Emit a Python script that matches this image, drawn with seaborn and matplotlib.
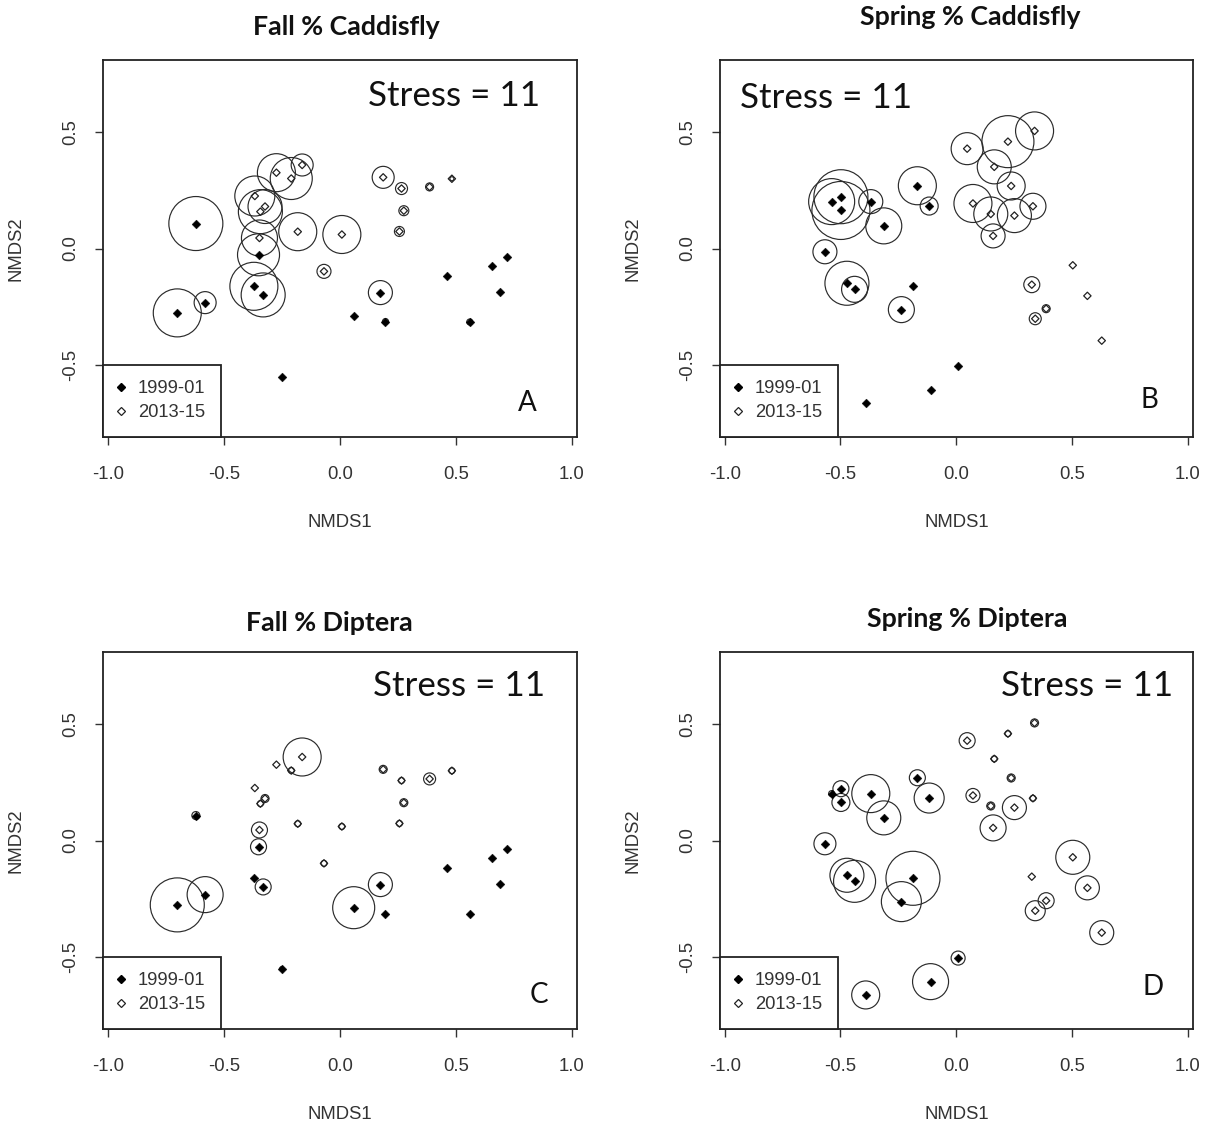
import matplotlib
matplotlib.use("Agg")
import matplotlib.pyplot as plt
import numpy as np
import pandas as pd
import seaborn as sns
from matplotlib.lines import Line2D

sns.set_theme(style="white")
plt.rcParams["font.family"] = ["Liberation Sans", "DejaVu Sans"]

# ---- NMDS site scores -------------------------------------------------------
# Fall ordination
fall_x_9901 = [-0.620, -0.700, -0.580, -0.350, -0.370, -0.330, -0.250, 0.060,
               0.175, 0.197, 0.460, 0.655, 0.720, 0.690, 0.560]
fall_y_9901 = [0.107, -0.276, -0.232, -0.027, -0.162, -0.199, -0.549, -0.288,
               -0.189, -0.313, -0.117, -0.075, -0.035, -0.188, -0.315]
fall_x_1315 = [-0.162, -0.273, -0.209, -0.366, -0.322, -0.342, -0.181, -0.346,
               0.009, -0.068, 0.187, 0.266, 0.276, 0.257, 0.387, 0.483]
fall_y_1315 = [0.358, 0.325, 0.300, 0.225, 0.180, 0.158, 0.072, 0.045,
               0.060, -0.098, 0.305, 0.257, 0.162, 0.073, 0.264, 0.299]

# Spring ordination
spring_x_9901 = [-0.538, -0.498, -0.498, -0.369, -0.313, -0.168, -0.117, -0.567,
                 -0.472, -0.439, -0.187, -0.237, 0.008, -0.111, -0.391]
spring_y_9901 = [0.201, 0.222, 0.163, 0.201, 0.097, 0.269, 0.182, -0.014,
                 -0.149, -0.175, -0.162, -0.262, -0.504, -0.605, -0.662]
spring_x_1315 = [0.047, 0.223, 0.338, 0.164, 0.237, 0.072, 0.149, 0.251,
                 0.331, 0.159, 0.326, 0.388, 0.341, 0.503, 0.566, 0.628]
spring_y_1315 = [0.428, 0.458, 0.504, 0.350, 0.268, 0.193, 0.148, 0.141,
                 0.181, 0.054, -0.155, -0.258, -0.301, -0.072, -0.203, -0.395]

# ---- relative abundance (%) at each site, drawn as circles ------------------
fall_caddis_9901 = [54, 48, 22, 42, 48, 44, 0, 0, 24, 6, 0, 0, 0, 0, 6]
fall_caddis_1315 = [22, 38, 42, 40, 34, 44, 38, 36, 38, 14, 22, 12, 10, 10, 8, 4]
fall_diptera_9901 = [8, 54, 36, 16, 0, 16, 4, 42, 24, 0, 0, 0, 0, 0, 0]
fall_diptera_1315 = [38, 0, 6, 0, 8, 6, 6, 16, 6, 6, 8, 6, 8, 6, 12, 6]

spring_caddis_9901 = [46, 54, 58, 24, 36, 38, 18, 24, 44, 26, 0, 26, 0, 0, 0]
spring_caddis_1315 = [32, 52, 38, 34, 28, 38, 34, 34, 26, 24, 16, 8, 12, 0, 0, 0]
spring_diptera_9901 = [6, 16, 18, 38, 34, 16, 30, 22, 34, 42, 54, 40, 14, 36, 28]
spring_diptera_1315 = [16, 6, 8, 6, 8, 14, 8, 24, 6, 26, 0, 16, 20, 34, 24, 24]

periods = ["1999-01", "2013-15"]
stress_label = "Stress = 11"
ticks = [-1.0, -0.5, 0.0, 0.5, 1.0]
y_ticks = [-0.5, 0.0, 0.5]

# circle radius in points per percent
RADIUS_PT_PER_PCT = 0.36


def site_table(x_old, y_old, x_new, y_new, pct_old, pct_new):
    old = pd.DataFrame({"NMDS1": x_old, "NMDS2": y_old, "pct": pct_old,
                        "period": periods[0]})
    new = pd.DataFrame({"NMDS1": x_new, "NMDS2": y_new, "pct": pct_new,
                        "period": periods[1]})
    return pd.concat([old, new], ignore_index=True)


panels = [
    dict(title="Fall % Caddisfly", letter="A",
         data=site_table(fall_x_9901, fall_y_9901, fall_x_1315, fall_y_1315,
                         fall_caddis_9901, fall_caddis_1315),
         box=(103, 60, 577, 437), title_xy=(346, 27),
         stress_xy=(0.559, 0.905), letter_xy=(0.895, 0.09)),
    dict(title="Spring % Caddisfly", letter="B",
         data=site_table(spring_x_9901, spring_y_9901, spring_x_1315, spring_y_1315,
                         spring_caddis_9901, spring_caddis_1315),
         box=(720, 60, 1193, 437), title_xy=(970, 17),
         stress_xy=(0.042, 0.900), letter_xy=(0.907, 0.098)),
    dict(title="Fall % Diptera", letter="C",
         data=site_table(fall_x_9901, fall_y_9901, fall_x_1315, fall_y_1315,
                         fall_diptera_9901, fall_diptera_1315),
         box=(103, 652, 577, 1029), title_xy=(329, 623),
         stress_xy=(0.570, 0.910), letter_xy=(0.920, 0.09)),
    dict(title="Spring % Diptera", letter="D",
         data=site_table(spring_x_9901, spring_y_9901, spring_x_1315, spring_y_1315,
                         spring_diptera_9901, spring_diptera_1315),
         box=(720, 652, 1193, 1029), title_xy=(967, 619),
         stress_xy=(0.594, 0.910), letter_xy=(0.915, 0.111)),
]

W, H = 1209, 1124
fig = plt.figure(figsize=(W / 100, H / 100), dpi=100)
fig.patch.set_facecolor("white")

for p in panels:
    left, top, right, bottom = p["box"]
    ax = fig.add_axes([left / W, 1 - bottom / H, (right - left) / W, (bottom - top) / H])
    df = p["data"]

    # abundance circles
    circ = df[df["pct"] > 0]
    sns.scatterplot(data=circ, x="NMDS1", y="NMDS2", ax=ax, marker="o",
                    s=(2 * circ["pct"].to_numpy() * RADIUS_PT_PER_PCT) ** 2,
                    facecolor="none", edgecolor="#2b2b2b", linewidth=0.85,
                    legend=False, zorder=2)

    # site points
    old = df[df["period"] == periods[0]]
    new = df[df["period"] == periods[1]]
    sns.scatterplot(data=old, x="NMDS1", y="NMDS2", ax=ax, marker="D", s=20,
                    color="black", edgecolor="black", linewidth=0.3,
                    legend=False, zorder=3)
    sns.scatterplot(data=new, x="NMDS1", y="NMDS2", ax=ax, marker="D", s=14,
                    facecolor="none", edgecolor="#222222", linewidth=0.9,
                    legend=False, zorder=3)

    ax.set_xlim(-1.02, 1.022)
    ax.set_ylim(-0.808, 0.808)
    ax.set_xticks(ticks)
    ax.set_xticklabels([f"{t:.1f}" for t in ticks])
    ax.set_yticks(y_ticks)
    ax.set_yticklabels([f"{t:.1f}" for t in y_ticks], rotation=90, va="center")
    ax.tick_params(axis="both", direction="out", length=6, width=1.0,
                   color="#333333", labelsize=13.3, labelcolor="#333333",
                   left=True, bottom=True)
    ax.tick_params(axis="x", pad=15)
    ax.tick_params(axis="y", pad=11)
    for sp in ax.spines.values():
        sp.set_visible(True)
        sp.set_color("#222222")
        sp.set_linewidth(1.3)
    ax.set_xlabel("NMDS1", fontsize=13.3, color="#333333", labelpad=22)
    ax.set_ylabel("NMDS2", fontsize=13.3, color="#333333", labelpad=27)
    ax.grid(False)

    ax.text(*p["stress_xy"], stress_label, transform=ax.transAxes,
            ha="left", va="center", fontsize=25.2, family=["Lato", "DejaVu Sans"],
            color="#111111")
    ax.text(*p["letter_xy"], p["letter"], transform=ax.transAxes,
            ha="center", va="center", fontsize=20, family=["Lato", "DejaVu Sans"],
            color="#111111")

    handles = [
        Line2D([], [], linestyle="none", marker="D", markersize=4.2,
               markerfacecolor="black", markeredgecolor="black"),
        Line2D([], [], linestyle="none", marker="D", markersize=3.8,
               markerfacecolor="none", markeredgecolor="#222222", markeredgewidth=0.9),
    ]
    leg = ax.legend(handles, periods, loc="lower left", bbox_to_anchor=(0, 0),
                    borderaxespad=0, frameon=True, fancybox=False,
                    edgecolor="#222222", framealpha=1, fontsize=13.2,
                    handlelength=0.3, handletextpad=0.75, borderpad=0.85,
                    labelspacing=0.39)
    leg.get_frame().set_linewidth(1.3)
    for t in leg.get_texts():
        t.set_color("#333333")

    fig.text(p["title_xy"][0] / W, 1 - p["title_xy"][1] / H, p["title"],
             ha="center", va="center", fontsize=19.3, fontweight="bold",
             family=["Lato", "DejaVu Sans"], color="#111111")

fig.savefig("out.png", dpi=100)
